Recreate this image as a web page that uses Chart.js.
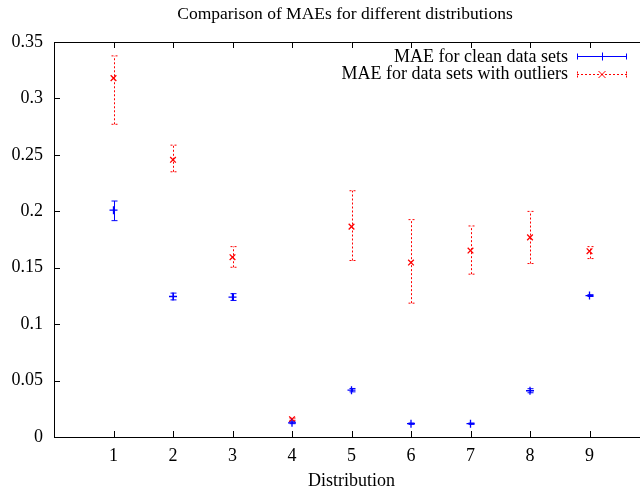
<!DOCTYPE html>
<html>
<head>
<meta charset="utf-8">
<script src="https://cdn.jsdelivr.net/npm/chart.js@4.4.1/dist/chart.umd.min.js"></script>
<style>
  html, body { margin: 0; padding: 0; background: #fff; overflow: hidden; }
  #wrap { width: 690px; height: 490px; }
</style>
</head>
<body>
<div id="wrap"><canvas id="c" width="690" height="490"></canvas></div>
<script>
// Distributions on the x axis
const distributions = [1, 2, 3, 4, 5, 6, 7, 8, 9];

// MAE for clean data sets: mean with lower / upper error limits
const cleanMae  = [0.2010, 0.1245, 0.1240, 0.0126, 0.0415, 0.0118, 0.0118, 0.0410, 0.1253];
const cleanLow  = [0.1917, 0.1215, 0.1210, 0.0118, 0.0400, 0.0112, 0.0112, 0.0392, 0.1245];
const cleanHigh = [0.2091, 0.1275, 0.1270, 0.0134, 0.0430, 0.0124, 0.0124, 0.0428, 0.1261];

// MAE for data sets with outliers: mean with lower / upper error limits
const outMae  = [0.3180, 0.2456, 0.1593, 0.0158, 0.1864, 0.1546, 0.1652, 0.1769, 0.1646];
const outLow  = [0.2771, 0.2350, 0.1504, 0.0148, 0.1564, 0.1186, 0.1443, 0.1537, 0.1581];
const outHigh = [0.3377, 0.2586, 0.1687, 0.0168, 0.2182, 0.1926, 0.1870, 0.1999, 0.1687];

// Tick labels
const xTicks = [1, 2, 3, 4, 5, 6, 7, 8, 9];
const yTicks = [0, 0.05, 0.1, 0.15, 0.2, 0.25, 0.3, 0.35];

const FONT = "'Liberation Serif', 'Times New Roman', serif";
const BLUE = '#0000ff';
const RED = '#ff0000';

const points = (xs, ys, lo, hi) => xs.map((x, i) => ({ x: x, y: ys[i], lo: lo[i], hi: hi[i] }));

// Vertical error bars with caps, drawn through the chart scales
const errorBars = {
  id: 'errorBars',
  afterDatasetsDraw(chart) {
    const { ctx } = chart;
    const xs = chart.scales.x, ys = chart.scales.y;
    chart.data.datasets.forEach(ds => {
      ctx.save();
      ctx.strokeStyle = ds.borderColor;
      ctx.lineWidth = 1;
      ctx.setLineDash(ds.dash || []);
      ds.data.forEach(p => {
        const px = Math.round(xs.getPixelForValue(p.x)) + 0.5;
        const yLo = ys.getPixelForValue(p.lo);
        const yHi = ys.getPixelForValue(p.hi);
        ctx.beginPath();
        ctx.moveTo(px, yLo); ctx.lineTo(px, yHi);
        ctx.moveTo(px - 3, yLo); ctx.lineTo(px + 3, yLo);
        ctx.moveTo(px - 3, yHi); ctx.lineTo(px + 3, yHi);
        ctx.stroke();
      });
      ctx.restore();
    });
  }
};

// Frame: top border and inward tick marks
const frame = {
  id: 'frame',
  afterDraw(chart) {
    const { ctx, chartArea: a } = chart;
    const xs = chart.scales.x, ys = chart.scales.y;
    ctx.save();
    ctx.strokeStyle = '#000';
    ctx.lineWidth = 1;
    ctx.beginPath();
    ctx.moveTo(a.left, a.top + 0.5); ctx.lineTo(a.right, a.top + 0.5);
    xTicks.forEach(v => {
      const px = Math.round(xs.getPixelForValue(v)) + 0.5;
      ctx.moveTo(px, a.bottom); ctx.lineTo(px, a.bottom - 6);
      ctx.moveTo(px, a.top); ctx.lineTo(px, a.top + 6);
    });
    yTicks.forEach(v => {
      const py = Math.round(ys.getPixelForValue(v)) + 0.5;
      ctx.moveTo(a.left, py); ctx.lineTo(a.left + 6, py);
    });
    ctx.stroke();
    ctx.restore();
  }
};

// Key in the upper right: label right-aligned, then a sample bar with marker
const key = {
  id: 'key',
  afterDraw(chart) {
    const { ctx } = chart;
    const textRight = 568, x0 = 577, x1 = 627, xm = 602;
    chart.data.datasets.forEach((ds, i) => {
      const y = 56 + i * 17.5;
      ctx.save();
      ctx.font = '18px ' + FONT;
      ctx.fillStyle = '#000';
      ctx.textAlign = 'right';
      ctx.textBaseline = 'middle';
      ctx.fillText(ds.label, textRight, y + 1);
      ctx.strokeStyle = ds.borderColor;
      ctx.lineWidth = 1;
      ctx.setLineDash(ds.dash || []);
      const yy = Math.round(y) + 0.5;
      ctx.beginPath();
      ctx.moveTo(x0, yy); ctx.lineTo(x1, yy);
      ctx.moveTo(x0 + 0.5, yy - 3); ctx.lineTo(x0 + 0.5, yy + 3);
      ctx.moveTo(x1 - 0.5, yy - 3); ctx.lineTo(x1 - 0.5, yy + 3);
      ctx.stroke();
      ctx.setLineDash([]);
      ctx.beginPath();
      if (ds.pointStyle === 'cross') {
        ctx.moveTo(xm + 0.5, yy - 4); ctx.lineTo(xm + 0.5, yy + 4);
      } else {
        ctx.moveTo(xm - 3.5, yy - 3.5); ctx.lineTo(xm + 3.5, yy + 3.5);
        ctx.moveTo(xm - 3.5, yy + 3.5); ctx.lineTo(xm + 3.5, yy - 3.5);
      }
      ctx.stroke();
      ctx.restore();
    });
  }
};

new Chart(document.getElementById('c'), {
  type: 'scatter',
  data: {
    datasets: [
      {
        label: 'MAE for clean data sets',
        data: points(distributions, cleanMae, cleanLow, cleanHigh),
        borderColor: BLUE,
        backgroundColor: BLUE,
        pointStyle: 'cross',
        pointRadius: 4,
        pointBorderWidth: 1.3,
        dash: []
      },
      {
        label: 'MAE for data sets with outliers',
        data: points(distributions, outMae, outLow, outHigh),
        borderColor: RED,
        backgroundColor: RED,
        pointStyle: 'crossRot',
        pointRadius: 4,
        pointBorderWidth: 1.3,
        dash: [2, 2]
      }
    ]
  },
  options: {
    responsive: false,
    animation: false,
    layout: { padding: 0 },
    plugins: {
      legend: { display: false },
      tooltip: { enabled: false },
      title: {
        display: true,
        text: 'Comparison of MAEs for different distributions',
        color: '#000',
        font: { family: FONT, size: 17.5, weight: 'normal', lineHeight: 1.2 },
        padding: { top: 4, bottom: 17 }
      }
    },
    scales: {
      x: {
        type: 'linear',
        min: 0,
        max: 10,
        afterBuildTicks: s => { s.ticks = xTicks.map(v => ({ value: v })); },
        afterFit: s => { s.height = 53; },
        grid: { display: false, drawTicks: false },
        border: { display: true, color: '#000', width: 1 },
        ticks: { color: '#000', padding: 8, font: { family: FONT, size: 18 }, maxRotation: 0 },
        title: {
          display: true,
          text: 'Distribution',
          color: '#000',
          font: { family: FONT, size: 18, lineHeight: 1 },
          padding: { top: 0, bottom: 0 }
        }
      },
      y: {
        type: 'linear',
        min: 0,
        max: 0.35,
        afterBuildTicks: s => { s.ticks = yTicks.map(v => ({ value: v })); },
        afterFit: s => { s.width = 54; },
        grid: { display: false, drawTicks: false },
        border: { display: true, color: '#000', width: 1 },
        ticks: {
          color: '#000',
          padding: 11,
          font: { family: FONT, size: 18 },
          callback: v => String(Math.round(v * 100) / 100)
        }
      },
      // right-hand margin beyond the plot frame
      yRight: {
        type: 'linear',
        position: 'right',
        min: 0,
        max: 0.35,
        afterFit: s => { s.width = 41; },
        grid: { display: false, drawTicks: false },
        border: { display: false },
        ticks: { display: false }
      }
    }
  },
  plugins: [errorBars, frame, key]
});
</script>
</body>
</html>
